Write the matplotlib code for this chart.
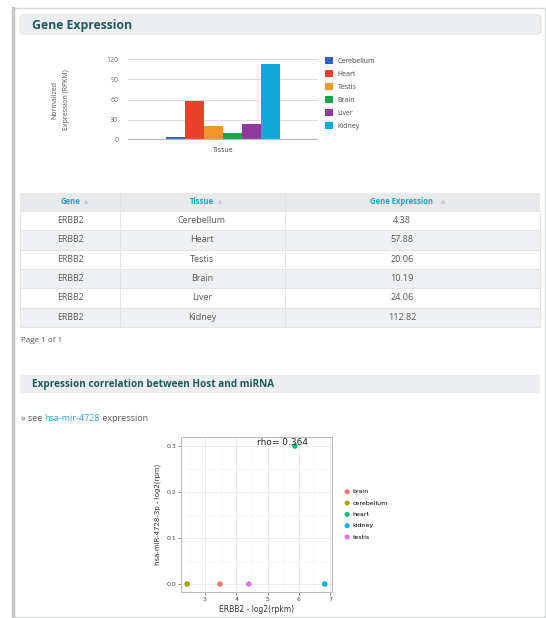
import matplotlib
matplotlib.use("Agg")
import matplotlib.pyplot as plt
from matplotlib.patches import Rectangle, FancyBboxPatch
from matplotlib.ticker import MultipleLocator, FormatStrFormatter

# bar chart / table data
tissues = ["Cerebellum", "Heart", "Testis", "Brain", "Liver", "Kidney"]
expression = [4.38, 57.88, 20.06, 10.19, 24.06, 112.82]
gene = "ERBB2"
bar_colors = ["#2f5fbf", "#ea4129", "#f5952a", "#1ca34b", "#8f3b9b", "#0fa8d8"]

# host vs miRNA scatter
sc_tissues = ["brain", "cerebellum", "heart", "kidney", "testis"]
host_log2 = [3.48, 2.43, 5.88, 6.83, 4.40]
mirna_log2 = [0.0, 0.0, 0.3, 0.0, 0.0]
sc_colors = ["#F8766D", "#A3A500", "#00BF7D", "#00B0F6", "#E76BF3"]
rho = 0.364

W, H = 546, 618
plt.rcParams['font.family'] = ['Open Sans', 'DejaVu Sans']
fig = plt.figure(figsize=(W / 100, H / 100), dpi=100)


def px(l, t, r, b):
    return [l / W, 1 - b / H, (r - l) / W, (b - t) / H]


# page background in pixel coords
bg = fig.add_axes([0, 0, 1, 1])
bg.set_xlim(0, W)
bg.set_ylim(H, 0)
bg.axis('off')

bg.add_patch(Rectangle((12.5, 7.5), 532, 609, fill=False, ec='#d6d8da', lw=1))
bg.plot([13, 13], [8, 617], color='#c6c8ca', lw=2.5)

title_col = '#1d5a5c'
bg.add_patch(FancyBboxPatch((20, 15), 521, 19, boxstyle='round,pad=0,rounding_size=4',
                            fc='#eceef0', ec='#e0e2e4', lw=0.8))
bg.text(32, 25, "Gene Expression", fontsize=8.8, fontweight='bold', color=title_col, va='center')

# table
tab_l, tab_r = 20, 540
col_x = [70, 202, 402]
col_div = [120, 285]
head_t, head_b = 193, 211
row_h = 19.3
bg.add_patch(Rectangle((tab_l, head_t), tab_r - tab_l, head_b - head_t, fc='#e7e9eb', ec='none'))
heads = ["Gene", "Tissue", "Gene Expression"]
arrow_x = [86, 220, 443]
for hx, h, ax_ in zip(col_x, heads, arrow_x):
    bg.text(hx, (head_t + head_b) / 2, h, fontsize=5.5, fontweight='bold', color='#1aa3c8',
            ha='center', va='center')
    bg.text(ax_, (head_t + head_b) / 2, "\u25b2", fontsize=4, color='#c4c6c8',
            ha='center', va='center', family='DejaVu Sans')
for i, (t, v) in enumerate(zip(tissues, expression)):
    y0 = head_b + i * row_h
    fc = 'white' if i % 2 == 0 else '#eef0f2'
    bg.add_patch(Rectangle((tab_l, y0), tab_r - tab_l, row_h, fc=fc, ec='#dfe1e3', lw=0.6))
    yc = y0 + row_h / 2
    bg.text(col_x[0], yc, gene, fontsize=6.3, color='#555555', ha='center', va='center')
    bg.text(col_x[1], yc, t, fontsize=6.5, color='#555555', ha='center', va='center')
    bg.text(col_x[2], yc, "%.2f" % v, fontsize=6.5, color='#555555', ha='center', va='center')
for cx in col_div:
    bg.plot([cx, cx], [head_t, head_b + 6 * row_h], color='#dfe1e3', lw=0.6)

bg.text(21, 340, "Page 1 of 1", fontsize=5.8, color='#555555', va='center')

bg.add_patch(Rectangle((20, 375), 520, 18, fc='#eceef0', ec='none'))
bg.text(32, 384, "Expression correlation between Host and miRNA", fontsize=7.2,
        fontweight='bold', color=title_col, va='center')

t1 = bg.text(21, 421, "\u00bb see ", fontsize=6.5, color='#555555', va='baseline')
t2 = bg.annotate("hsa-mir-4728", xy=(1, 0), xycoords=t1, fontsize=6.5, color='#2aa5c8',
                 va='bottom')
bg.annotate(" expression", xy=(1, 0), xycoords=t2, fontsize=6.5, color='#555555', va='bottom')

bg.text(55, 100, "Normalized", fontsize=5, color='#555555', rotation=90, ha='center', va='center')
bg.text(67, 100, "Expression (RPKM)", fontsize=5, color='#555555', rotation=90, ha='center', va='center')

# bar chart
ax = fig.add_axes(px(128, 59, 318, 140))
ax.patch.set_alpha(0)
for i, (t, v, c) in enumerate(zip(tissues, expression, bar_colors)):
    ax.bar(i, v, width=1.0, color=c, label=t, zorder=3)
ax.set_xlim(-2.53, 7.53)
ax.set_ylim(0, 120)
ax.set_yticks([0, 30, 60, 90, 120])
ax.yaxis.grid(True, color='#dcdcdc', lw=0.8)
ax.axhline(0, color='#b9b9b9', lw=1.6, zorder=4)
ax.set_xticks([])
for s in ax.spines.values():
    s.set_visible(False)
ax.tick_params(axis='y', length=0, labelsize=5, labelcolor='#666666', pad=7)
ax.set_xlabel("Tissue", fontsize=5, color='#444444', labelpad=5)
ax.legend(loc='upper left', bbox_to_anchor=(325 / W, 1 - 57 / H), bbox_transform=fig.transFigure,
          frameon=False, fontsize=5, handlelength=1.15, handleheight=1.15, handletextpad=0.7,
          labelspacing=0.75, borderaxespad=0, borderpad=0, labelcolor='#444444')

# scatter
ax2 = fig.add_axes(px(181, 437, 332, 592))
for t, x, y, c in zip(sc_tissues, host_log2, mirna_log2, sc_colors):
    ax2.scatter(x, y, s=16, color=c, label=t, zorder=3, edgecolors='none', clip_on=False)
ax2.set_xlim(2.232, 7.064)
ax2.set_ylim(-0.0174, 0.3196)
ax2.xaxis.set_major_locator(MultipleLocator(1))
ax2.xaxis.set_minor_locator(MultipleLocator(0.5))
ax2.yaxis.set_major_locator(MultipleLocator(0.1))
ax2.yaxis.set_minor_locator(MultipleLocator(0.05))
ax2.yaxis.set_major_formatter(FormatStrFormatter('%.1f'))
ax2.grid(True, which='major', color='#e8e8e8', lw=0.6)
ax2.grid(True, which='minor', color='#f2f2f2', lw=0.4)
ax2.set_axisbelow(True)
for s in ax2.spines.values():
    s.set_color('#bdbdbd')
    s.set_linewidth(0.8)
ax2.tick_params(which='major', length=2, width=0.6, color='#777777', labelsize=4.5,
                labelcolor='#444444', pad=1.5)
ax2.tick_params(which='minor', length=0)
for lbl in ax2.get_xticklabels():
    lbl.set_family('DejaVu Sans')
for lbl in ax2.get_yticklabels():
    lbl.set_family('DejaVu Sans')
ax2.text(4.66, 0.307, "rho= %s" % rho, fontsize=6.5, va='center', family='DejaVu Sans', color='#222222')
ax2.set_xlabel("ERBB2 - log2(rpkm)", fontsize=5.5, family='DejaVu Sans', color='#333333', labelpad=2)
ax2.set_ylabel("hsa-miR-4728-3p - log2(rpm)", fontsize=5, family='DejaVu Sans', color='#333333', labelpad=4)
ax2.legend(loc='upper left', bbox_to_anchor=(344 / W, 1 - 489 / H), bbox_transform=fig.transFigure,
           frameon=False, fontsize=4.5, handlelength=1.0, handletextpad=0.4, markerscale=0.9,
           labelspacing=0.95, borderaxespad=0, borderpad=0, prop={'family': 'DejaVu Sans', 'size': 4.5})

fig.savefig("out.png", dpi=100)
